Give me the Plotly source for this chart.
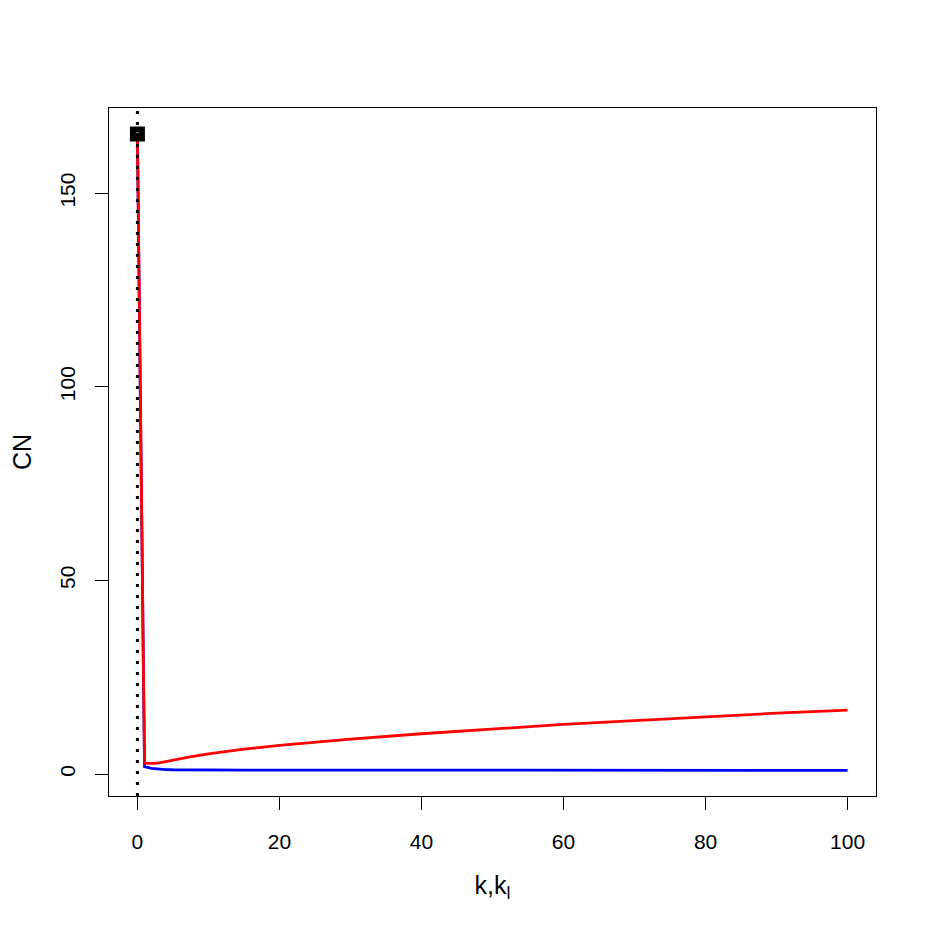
import plotly.graph_objects as go

# data
k_vals = [0, 1, 2, 3, 4, 5, 7, 10, 15, 20, 30, 40, 50, 60, 70, 80, 90, 100]
cn_red = [165.3, 2.8, 2.75, 2.85, 3.2, 3.6, 4.3, 5.2, 6.4, 7.4, 9.0, 10.4, 11.6, 12.8, 13.8, 14.8, 15.7, 16.5]
cn_blue = [165.3, 1.9, 1.45, 1.25, 1.15, 1.1, 1.05, 1.02, 1.0, 1.0, 0.98, 0.97, 0.96, 0.96, 0.95, 0.95, 0.95, 0.95]
start_k = [0]
start_cn = [165.3]
x_ticks = [0, 20, 40, 60, 80, 100]
y_ticks = [0, 50, 100, 150]

FONT = "Liberation Sans, Arial, sans-serif"

fig = go.Figure()
fig.add_trace(go.Scatter(x=k_vals, y=cn_blue, mode="lines",
                         line=dict(color="#0000ff", width=2.8), showlegend=False))
fig.add_trace(go.Scatter(x=k_vals, y=cn_red, mode="lines",
                         line=dict(color="#ff0000", width=2.8), showlegend=False))
fig.add_trace(go.Scatter(x=start_k, y=start_cn, mode="markers",
                         marker=dict(symbol="square-open", size=9, color="black",
                                     line=dict(color="black", width=6)),
                         showlegend=False))

fig.add_shape(type="line", xref="x", yref="paper", x0=0, x1=0, y0=0, y1=1,
              line=dict(color="black", width=3, dash="3px,8px"))

# page body has an 8px margin; figure is sized so the plot box sits at 109..876 / 108..796
fig.update_layout(
    width=916, height=916,
    margin=dict(l=101, r=48, t=100, b=128, autoexpand=False),
    paper_bgcolor="white", plot_bgcolor="white",
    font=dict(family=FONT, size=21, color="black"),
    xaxis=dict(range=[-4, 104], tickvals=x_ticks, ticks="outside", ticklen=13,
               tickwidth=1, tickcolor="black", showline=True, linecolor="black",
               linewidth=1, mirror=True, showgrid=False, zeroline=False,
               ticklabelstandoff=14,
               title=dict(text="k,k<sub>l</sub>", standoff=24), automargin=False),
    yaxis=dict(range=[-5.68, 172.0], tickvals=y_ticks, ticks="outside", ticklen=13,
               tickwidth=1, tickcolor="black", showline=True, linecolor="black",
               linewidth=1, mirror=True, showgrid=False, zeroline=False,
               tickangle=-90, ticklabelstandoff=12,
               title=dict(text="CN", standoff=27), automargin=False),
)

fig.write_html("out.html")
